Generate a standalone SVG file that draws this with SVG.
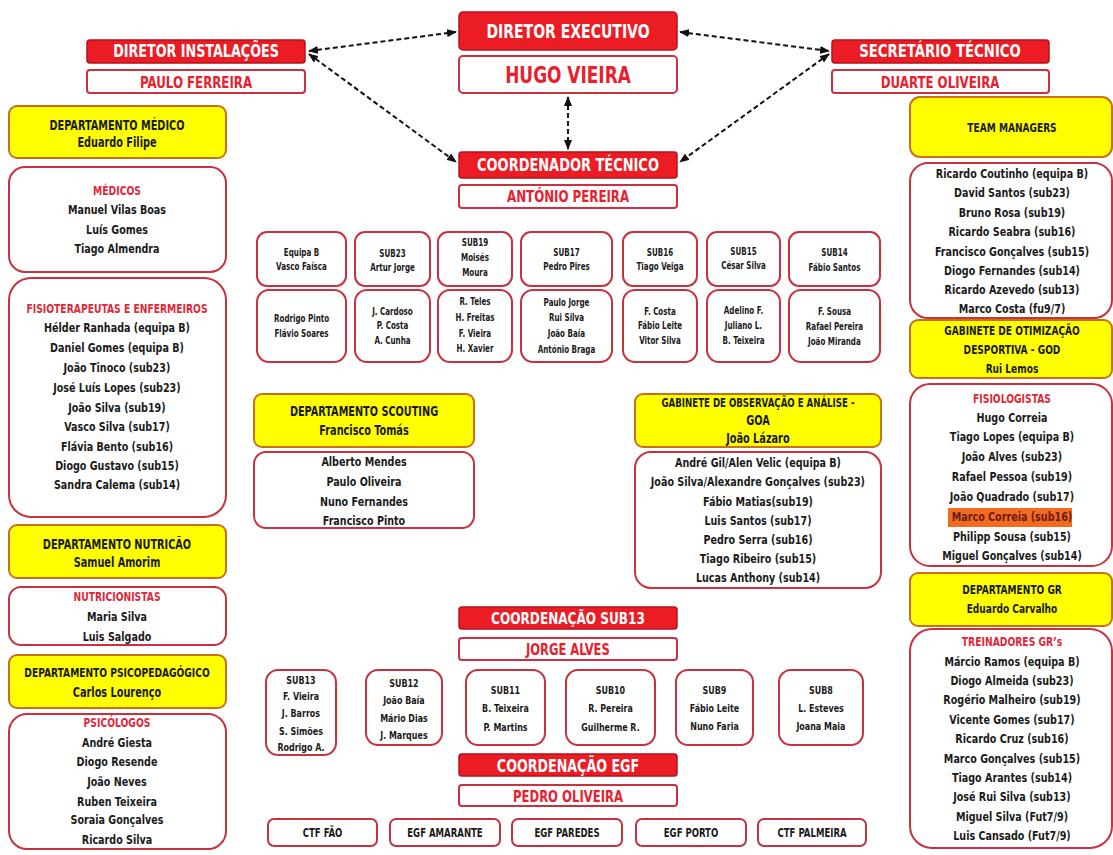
<svg xmlns="http://www.w3.org/2000/svg" width="1113" height="855" viewBox="0 0 1113 855">
<style>
.bg{fill:#fff}
.red{fill:#ec1c24;stroke:#b3121a;stroke-width:1.5}
.wb{fill:#fff;stroke:#c8323e;stroke-width:2}
.wp{fill:#fff;stroke:#c8323e;stroke-width:2}
.yel{fill:#ffff00;stroke:#c8701e;stroke-width:2}
text{font-family:"Liberation Sans Narrow","DejaVu Sans Condensed","Liberation Sans",sans-serif;font-weight:bold;text-anchor:middle;dominant-baseline:central;fill:#1a1a1a;transform-box:fill-box;transform-origin:center;transform:scaleX(0.82)}
.w{fill:#fff}
.r{fill:#e8202e}
.h{fill:#e02838;font-size:12.5px}
.n{font-size:13px}
.y{font-size:13.2px}
.yr{font-size:12.3px}
.s{font-size:9.7px}
.m{font-size:10.8px}
.b{font-size:11.6px}
.conn{fill:none;stroke:#111;stroke-width:2;stroke-dasharray:5 3}
</style>
<defs>
<marker id="ah" markerWidth="10" markerHeight="8" refX="9" refY="4" orient="auto-start-reverse" markerUnits="userSpaceOnUse">
<path d="M0,0 L10,4 L0,8 z" fill="#111"/>
</marker>
</defs>
<rect class="bg" x="0" y="0" width="1113" height="855"/>

<g id="connectors">
<path class="conn" d="M309,51 L456,32" marker-start="url(#ah)" marker-end="url(#ah)"/>
<path class="conn" d="M309,54 L456,162" marker-start="url(#ah)" marker-end="url(#ah)"/>
<path class="conn" d="M680,32 L829,51" marker-start="url(#ah)" marker-end="url(#ah)"/>
<path class="conn" d="M829,54 L680,162" marker-start="url(#ah)" marker-end="url(#ah)"/>
<path class="conn" d="M568,97 L568,149" marker-start="url(#ah)" marker-end="url(#ah)"/>
</g>

<g id="diretor-instalacoes">
<rect class="red" x="87" y="40" width="218" height="23" rx="3"/>
<text class="w" x="196" y="51.5" font-size="17.3">DIRETOR INSTALAÇÕES</text>
<rect class="wb" x="87" y="70" width="218" height="23" rx="3"/>
<text class="r" x="196" y="81.5" font-size="16">PAULO FERREIRA</text>
</g>

<g id="diretor-executivo">
<rect class="red" x="459" y="12" width="218" height="38" rx="4"/>
<text class="w" x="568" y="31" font-size="19">DIRETOR EXECUTIVO</text>
<rect class="wb" x="459" y="56" width="218" height="37" rx="4"/>
<text class="r" x="568" y="75" font-size="23">HUGO VIEIRA</text>
</g>

<g id="secretario-tecnico">
<rect class="red" x="832" y="40" width="217" height="23" rx="3"/>
<text class="w" x="940" y="51.5" font-size="18">SECRETÁRIO TÉCNICO</text>
<rect class="wb" x="832" y="70" width="217" height="23" rx="3"/>
<text class="r" x="940" y="81.5" font-size="16">DUARTE OLIVEIRA</text>
</g>

<g id="coordenador-tecnico">
<rect class="red" x="459" y="152" width="218" height="26" rx="3"/>
<text class="w" x="568" y="165" font-size="17.6">COORDENADOR TÉCNICO</text>
<rect class="wb" x="459" y="185" width="218" height="23" rx="3"/>
<text class="r" x="568" y="196.5" font-size="16">ANTÓNIO PEREIRA</text>
</g>

<!-- Left column -->
<g id="dep-medico">
<rect class="yel" x="9" y="106" width="217" height="52" rx="8"/>
<text class="y" x="117" y="126">DEPARTAMENTO MÉDICO</text>
<text class="y" x="117" y="143">Eduardo Filipe</text>
</g>
<g id="medicos">
<rect class="wp" x="9" y="167" width="217" height="105" rx="16"/>
<text class="h" x="117" y="191">MÉDICOS</text>
<text class="n" x="117" y="210">Manuel Vilas Boas</text>
<text class="n" x="117" y="230">Luís Gomes</text>
<text class="n" x="117" y="249">Tiago Almendra</text>
</g>
<g id="fisioterapeutas">
<rect class="wp" x="9" y="278" width="217" height="239" rx="22"/>
<text class="h" x="117" y="309">FISIOTERAPEUTAS E ENFERMEIROS</text>
<text class="n" x="117" y="328">Hélder Ranhada (equipa B)</text>
<text class="n" x="117" y="348">Daniel Gomes (equipa B)</text>
<text class="n" x="117" y="368">João Tinoco (sub23)</text>
<text class="n" x="117" y="388">José Luís Lopes (sub23)</text>
<text class="n" x="117" y="408">João Silva (sub19)</text>
<text class="n" x="117" y="427">Vasco Silva (sub17)</text>
<text class="n" x="117" y="447">Flávia Bento (sub16)</text>
<text class="n" x="117" y="466">Diogo Gustavo (sub15)</text>
<text class="n" x="117" y="485">Sandra Calema (sub14)</text>
</g>
<g id="dep-nutricao">
<rect class="yel" x="9" y="525" width="217" height="53" rx="8"/>
<text class="y" x="117" y="545">DEPARTAMENTO NUTRICÃO</text>
<text class="y" x="117" y="563">Samuel Amorim</text>
</g>
<g id="nutricionistas">
<rect class="wp" x="9" y="587" width="217" height="58" rx="12"/>
<text class="h" x="117" y="597">NUTRICIONISTAS</text>
<text class="n" x="117" y="617">Maria Silva</text>
<text class="n" x="117" y="637">Luis Salgado</text>
</g>
<g id="dep-psicopedagogico">
<rect class="yel" x="9" y="655" width="217" height="53" rx="8"/>
<text x="117" y="673" font-size="12.4">DEPARTAMENTO PSICOPEDAGÓGICO</text>
<text class="y" x="117" y="693">Carlos Lourenço</text>
</g>
<g id="psicologos">
<rect class="wp" x="9" y="714" width="217" height="135" rx="18"/>
<text class="h" x="117" y="723">PSICÓLOGOS</text>
<text class="n" x="117" y="743">André Giesta</text>
<text class="n" x="117" y="762">Diogo Resende</text>
<text class="n" x="117" y="782">João Neves</text>
<text class="n" x="117" y="802">Ruben Teixeira</text>
<text class="n" x="117" y="820">Soraia Gonçalves</text>
<text class="n" x="117" y="840">Ricardo Silva</text>
</g>

<!-- Teams row -->
<g id="equipa-b">
<rect class="wp" x="257" y="232" width="89" height="54" rx="10"/>
<text class="s" x="301.5" y="253">Equipa B</text>
<text class="s" x="301.5" y="267">Vasco Faísca</text>
<rect class="wp" x="257" y="290" width="89" height="72" rx="12"/>
<text class="s" x="301.5" y="319">Rodrigo Pinto</text>
<text class="s" x="301.5" y="334">Flávio Soares</text>
</g>
<g id="sub23">
<rect class="wp" x="355" y="232" width="75" height="54" rx="10"/>
<text class="s" x="392.5" y="254">SUB23</text>
<text class="s" x="392.5" y="268">Artur Jorge</text>
<rect class="wp" x="355" y="290" width="75" height="72" rx="12"/>
<text class="s" x="392.5" y="312">J. Cardoso</text>
<text class="s" x="392.5" y="326">P. Costa</text>
<text class="s" x="392.5" y="341">A. Cunha</text>
</g>
<g id="sub19">
<rect class="wp" x="438" y="232" width="74" height="54" rx="10"/>
<text class="s" x="475" y="243">SUB19</text>
<text class="s" x="475" y="258">Moisés</text>
<text class="s" x="475" y="273">Moura</text>
<rect class="wp" x="438" y="290" width="74" height="72" rx="12"/>
<text class="s" x="475" y="302">R. Teles</text>
<text class="s" x="475" y="318">H. Freitas</text>
<text class="s" x="475" y="334">F. Vieira</text>
<text class="s" x="475" y="349">H. Xavier</text>
</g>
<g id="sub17">
<rect class="wp" x="521" y="232" width="91" height="54" rx="10"/>
<text class="s" x="566.5" y="253">SUB17</text>
<text class="s" x="566.5" y="267">Pedro Pires</text>
<rect class="wp" x="521" y="290" width="91" height="72" rx="12"/>
<text class="s" x="566.5" y="303">Paulo Jorge</text>
<text class="s" x="566.5" y="318">Rui Silva</text>
<text class="s" x="566.5" y="334">João Baía</text>
<text class="s" x="566.5" y="350">António Braga</text>
</g>
<g id="sub16">
<rect class="wp" x="623" y="232" width="74" height="54" rx="10"/>
<text class="s" x="660" y="253">SUB16</text>
<text class="s" x="660" y="267">Tiago Veiga</text>
<rect class="wp" x="623" y="290" width="74" height="72" rx="12"/>
<text class="s" x="660" y="312">F. Costa</text>
<text class="s" x="660" y="326">Fábio Leite</text>
<text class="s" x="660" y="341">Vitor Silva</text>
</g>
<g id="sub15">
<rect class="wp" x="707" y="232" width="73" height="54" rx="10"/>
<text class="s" x="743.5" y="252">SUB15</text>
<text class="s" x="743.5" y="266">César Silva</text>
<rect class="wp" x="707" y="290" width="73" height="72" rx="12"/>
<text class="s" x="743.5" y="311">Adelino F.</text>
<text class="s" x="743.5" y="326">Juliano L.</text>
<text class="s" x="743.5" y="341">B. Teixeira</text>
</g>
<g id="sub14">
<rect class="wp" x="789" y="232" width="91" height="54" rx="10"/>
<text class="s" x="834.5" y="253">SUB14</text>
<text class="s" x="834.5" y="268">Fábio Santos</text>
<rect class="wp" x="789" y="290" width="91" height="72" rx="12"/>
<text class="s" x="834.5" y="312">F. Sousa</text>
<text class="s" x="834.5" y="327">Rafael Pereira</text>
<text class="s" x="834.5" y="342">João Miranda</text>
</g>

<!-- Scouting -->
<g id="dep-scouting">
<rect class="yel" x="254" y="394" width="220" height="53" rx="8"/>
<text class="y" x="364" y="412">DEPARTAMENTO SCOUTING</text>
<text class="y" x="364" y="431">Francisco Tomás</text>
<rect class="wp" x="254" y="452" width="220" height="76" rx="12"/>
<text class="n" x="364" y="462">Alberto Mendes</text>
<text class="n" x="364" y="482">Paulo Oliveira</text>
<text class="n" x="364" y="502">Nuno Fernandes</text>
<text class="n" x="364" y="521">Francisco Pinto</text>
</g>

<!-- GOA -->
<g id="goa">
<rect class="yel" x="635" y="394" width="246" height="53" rx="8"/>
<text x="758" y="403" font-size="11.7">GABINETE DE OBSERVAÇÃO E ANÁLISE -</text>
<text class="y" x="758" y="421">GOA</text>
<text class="y" x="758" y="439">João Lázaro</text>
<rect class="wp" x="635" y="452" width="246" height="136" rx="16"/>
<text class="n" x="758" y="463">André Gil/Alen Velic (equipa B)</text>
<text class="n" x="758" y="482">João Silva/Alexandre Gonçalves (sub23)</text>
<text class="n" x="758" y="502">Fábio Matias(sub19)</text>
<text class="n" x="758" y="521">Luis Santos (sub17)</text>
<text class="n" x="758" y="540">Pedro Serra (sub16)</text>
<text class="n" x="758" y="559">Tiago Ribeiro (sub15)</text>
<text class="n" x="758" y="578">Lucas Anthony (sub14)</text>
</g>

<!-- Right column -->
<g id="team-managers">
<rect class="yel" x="910" y="97" width="202" height="60" rx="10"/>
<text class="yr" x="1012" y="128">TEAM MANAGERS</text>
<rect class="wp" x="910" y="163" width="202" height="155" rx="18"/>
<text class="n" x="1012" y="174">Ricardo Coutinho (equipa B)</text>
<text class="n" x="1012" y="193">David Santos (sub23)</text>
<text class="n" x="1012" y="213">Bruno Rosa (sub19)</text>
<text class="n" x="1012" y="232">Ricardo Seabra (sub16)</text>
<text class="n" x="1012" y="252">Francisco Gonçalves (sub15)</text>
<text class="n" x="1012" y="271">Diogo Fernandes (sub14)</text>
<text class="n" x="1012" y="290">Ricardo Azevedo (sub13)</text>
<text class="n" x="1012" y="309">Marco Costa (fu9/7)</text>
</g>
<g id="god">
<rect class="yel" x="910" y="320" width="202" height="58" rx="8"/>
<text class="yr" x="1012" y="331">GABINETE DE OTIMIZAÇÃO</text>
<text class="yr" x="1012" y="350">DESPORTIVA - GOD</text>
<text class="yr" x="1012" y="369">Rui Lemos</text>
</g>
<g id="fisiologistas">
<rect class="wp" x="910" y="384" width="202" height="182" rx="20"/>
<text class="h" x="1012" y="399">FISIOLOGISTAS</text>
<text class="n" x="1012" y="418">Hugo Correia</text>
<text class="n" x="1012" y="437">Tiago Lopes (equipa B)</text>
<text class="n" x="1012" y="457">João Alves (sub23)</text>
<text class="n" x="1012" y="477">Rafael Pessoa (sub19)</text>
<text class="n" x="1012" y="497">João Quadrado (sub17)</text>
<rect x="948" y="508" width="124" height="19" fill="#f26b21"/>
<text class="n" x="1012" y="517" style="fill:#6b1c10">Marco Correia (sub16)</text>
<text class="n" x="1012" y="537">Philipp Sousa (sub15)</text>
<text class="n" x="1012" y="556">Miguel Gonçalves (sub14)</text>
</g>
<g id="dep-gr">
<rect class="yel" x="910" y="573" width="202" height="53" rx="8"/>
<text class="yr" x="1012" y="590">DEPARTAMENTO GR</text>
<text class="yr" x="1012" y="609">Eduardo Carvalho</text>
</g>
<g id="treinadores-gr">
<rect class="wp" x="910" y="629" width="202" height="219" rx="22"/>
<text class="h" x="1012" y="642">TREINADORES GR’s</text>
<text class="n" x="1012" y="662">Márcio Ramos (equipa B)</text>
<text class="n" x="1012" y="681">Diogo Almeida (sub23)</text>
<text class="n" x="1012" y="700">Rogério Malheiro (sub19)</text>
<text class="n" x="1012" y="720">Vicente Gomes (sub17)</text>
<text class="n" x="1012" y="739">Ricardo Cruz (sub16)</text>
<text class="n" x="1012" y="759">Marco Gonçalves (sub15)</text>
<text class="n" x="1012" y="778">Tiago Arantes (sub14)</text>
<text class="n" x="1012" y="797">José Rui Silva (sub13)</text>
<text class="n" x="1012" y="817">Miguel Silva (Fut7/9)</text>
<text class="n" x="1012" y="836">Luis Cansado (Fut7/9)</text>
</g>

<!-- Bottom center -->
<g id="coord-sub13">
<rect class="red" x="459" y="607" width="218" height="22" rx="3"/>
<text class="w" x="568" y="619" font-size="16.4">COORDENAÇÃO SUB13</text>
<rect class="wb" x="459" y="638" width="218" height="22" rx="3"/>
<text class="r" x="568" y="650" font-size="15.6">JORGE ALVES</text>
</g>
<g id="sub13">
<rect class="wp" x="266" y="670" width="70" height="85" rx="12"/>
<text class="m" x="301" y="680">SUB13</text>
<text class="m" x="301" y="696">F. Vieira</text>
<text class="m" x="301" y="713">J. Barros</text>
<text class="m" x="301" y="731">S. Simões</text>
<text class="m" x="301" y="747">Rodrigo A.</text>
</g>
<g id="sub12">
<rect class="wp" x="366" y="670" width="76" height="75" rx="12"/>
<text class="m" x="404" y="683">SUB12</text>
<text class="m" x="404" y="700">João Baía</text>
<text class="m" x="404" y="718">Mário Dias</text>
<text class="m" x="404" y="735">J. Marques</text>
</g>
<g id="sub11">
<rect class="wp" x="466" y="670" width="79" height="75" rx="12"/>
<text class="m" x="505.5" y="690">SUB11</text>
<text class="m" x="505.5" y="708">B. Teixeira</text>
<text class="m" x="505.5" y="727">P. Martins</text>
</g>
<g id="sub10">
<rect class="wp" x="566" y="670" width="89" height="75" rx="12"/>
<text class="m" x="610.5" y="690">SUB10</text>
<text class="m" x="610.5" y="708">R. Pereira</text>
<text class="m" x="610.5" y="727">Guilherme R.</text>
</g>
<g id="sub9">
<rect class="wp" x="676" y="670" width="77" height="75" rx="12"/>
<text class="m" x="714.5" y="690">SUB9</text>
<text class="m" x="714.5" y="708">Fábio Leite</text>
<text class="m" x="714.5" y="726">Nuno Faria</text>
</g>
<g id="sub8">
<rect class="wp" x="779" y="670" width="84" height="75" rx="12"/>
<text class="m" x="821" y="690">SUB8</text>
<text class="m" x="821" y="708">L. Esteves</text>
<text class="m" x="821" y="726">Joana Maia</text>
</g>
<g id="coord-egf">
<rect class="red" x="459" y="754" width="218" height="22" rx="3"/>
<text class="w" x="568" y="765.5" font-size="17.2">COORDENAÇÃO EGF</text>
<rect class="wb" x="459" y="785" width="218" height="21" rx="3"/>
<text class="r" x="568" y="796.5" font-size="15.8">PEDRO OLIVEIRA</text>
</g>
<g id="ctf-fao">
<rect class="wp" x="268" y="819" width="109" height="27" rx="6"/>
<text class="b" x="322.5" y="833">CTF FÃO</text>
</g>
<g id="egf-amarante">
<rect class="wp" x="390" y="819" width="110" height="27" rx="6"/>
<text class="b" x="445" y="833">EGF AMARANTE</text>
</g>
<g id="egf-paredes">
<rect class="wp" x="512" y="819" width="110" height="27" rx="6"/>
<text class="b" x="567" y="833">EGF PAREDES</text>
</g>
<g id="egf-porto">
<rect class="wp" x="636" y="819" width="110" height="27" rx="6"/>
<text class="b" x="691" y="833">EGF PORTO</text>
</g>
<g id="ctf-palmeira">
<rect class="wp" x="758" y="819" width="108" height="27" rx="6"/>
<text class="b" x="812" y="833">CTF PALMEIRA</text>
</g>
</svg>
